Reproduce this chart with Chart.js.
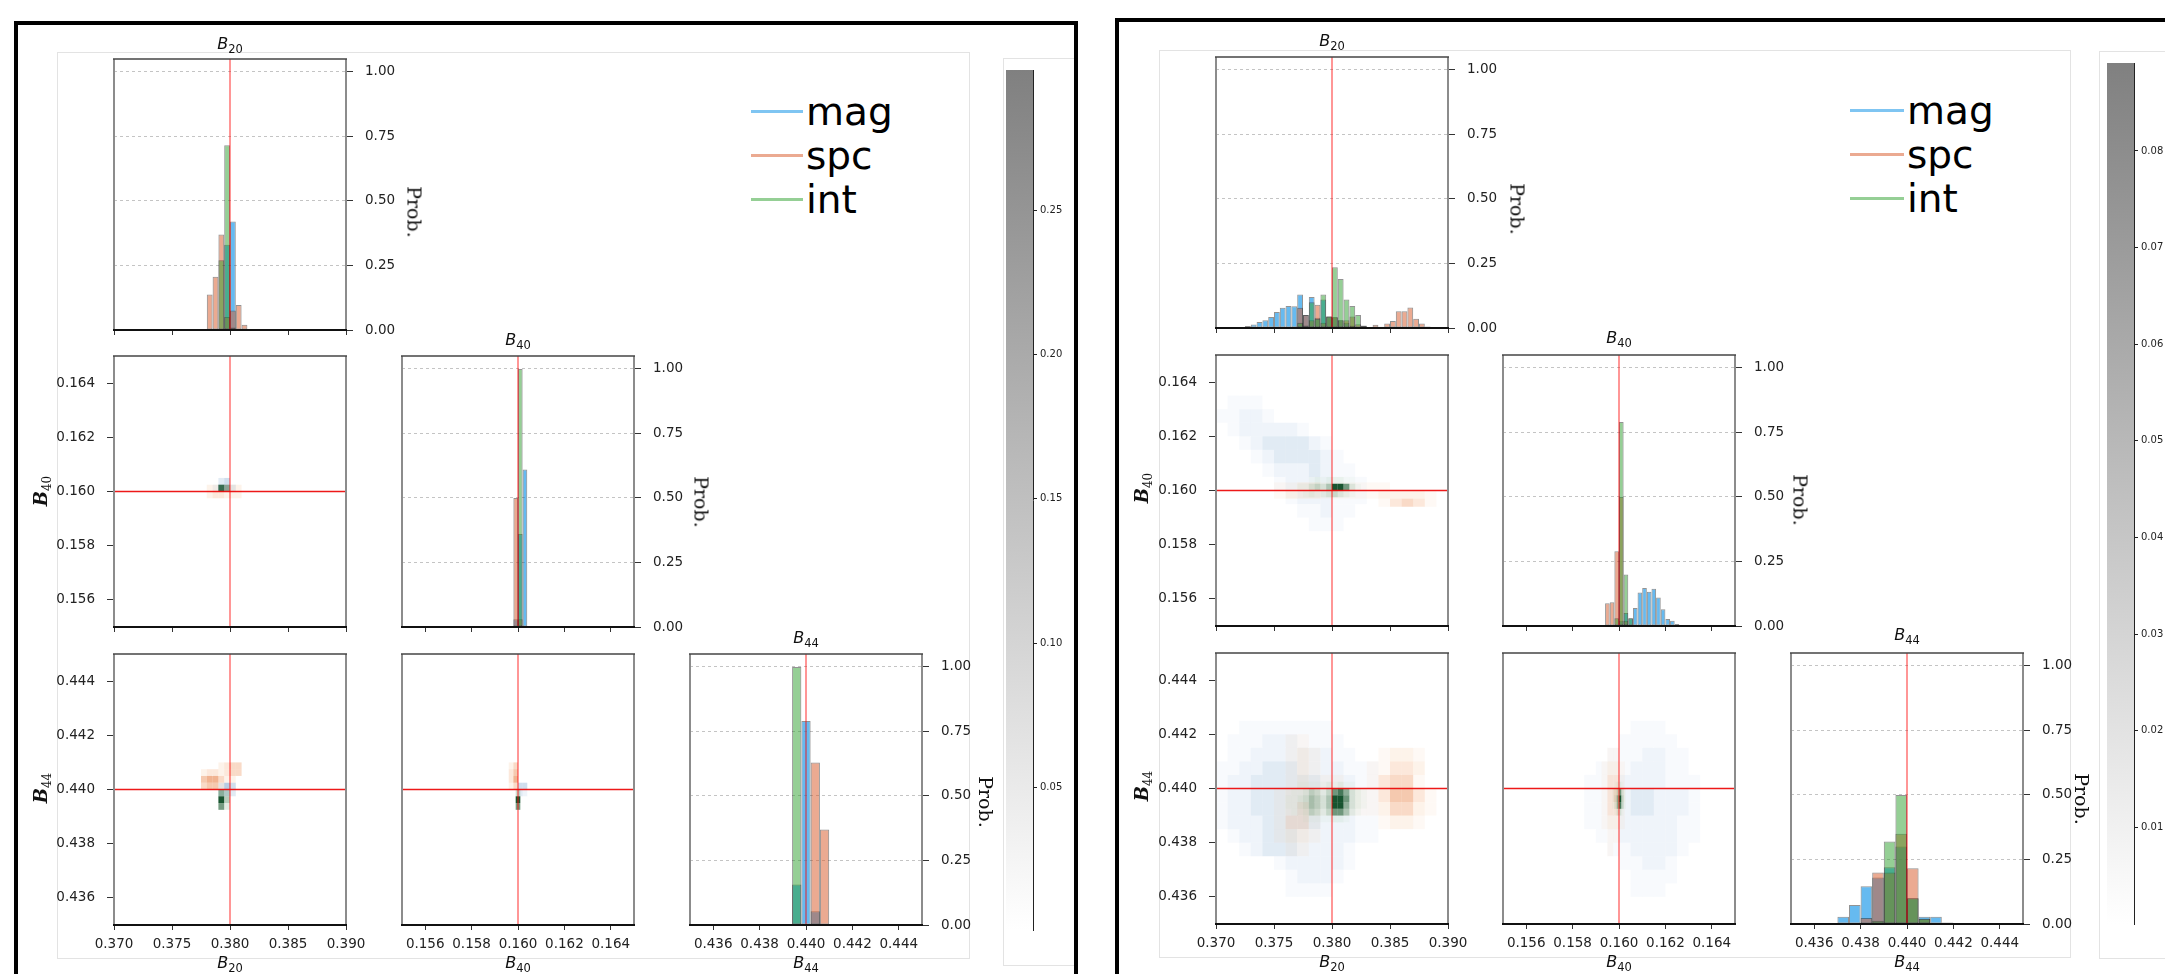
<!DOCTYPE html>
<html>
<head>
<meta charset="utf-8">
<title>Corner plots: mag / spc / int</title>
<script src="https://cdn.jsdelivr.net/npm/chart.js@4.4.1/dist/chart.umd.min.js"></script>
<style>
  html, body { margin: 0; padding: 0; background: #fff; }
  #stage { position: relative; width: 2165px; height: 974px; overflow: hidden; background: #fff; font-family: 'DejaVu Sans', sans-serif; }
  #stage canvas { position: absolute; }
  .frame { position: absolute; border: 4px solid #000; box-sizing: border-box; z-index: 5; }
  .box { position: absolute; border: 1px solid #e3e3e3; box-sizing: border-box; }
  .lab { position: absolute; white-space: nowrap; line-height: 1; color: #111; }
  .leg { position: absolute; white-space: nowrap; line-height: 1; font-size: 39px; color: #000; }
  .sw { position: absolute; height: 3px; }
</style>
</head>
<body>
<div id="stage"></div>
<script>
// ==========================================
// DATA: axes
// ==========================================
const B20_LIM = [0.370, 0.390];
const B40_LIM = [0.155, 0.165];
const B44_LIM = [0.435, 0.445];
const PROB_LIM = [0, 1.05];
const B20_TICKS = [0.370, 0.375, 0.380, 0.385, 0.390];
const B40_TICKS = [0.156, 0.158, 0.160, 0.162, 0.164];
const B44_TICKS = [0.436, 0.438, 0.440, 0.442, 0.444];
const PROB_TICKS = [0.00, 0.25, 0.50, 0.75, 1.00];
const TRUTH = [0.380, 0.160, 0.440];          // reference B20, B40, B44
const SERIES = ['mag', 'spc', 'int'];

const CB_L_LIM = [0.0007, 0.2985];
const CB_L_TICKS = [0.05, 0.10, 0.15, 0.20, 0.25];
const CB_R_LIM = [0.0, 0.0891];
const CB_R_TICKS = [0.01, 0.02, 0.03, 0.04, 0.05, 0.06, 0.07, 0.08];

// ==========================================
// DATA: left figure, 1-D marginals (bin starts, bin width, heights)
// ==========================================
const L_B20_BINS = [0.3780, 0.3785, 0.3790, 0.3795, 0.3800, 0.3805, 0.3810];
const L_B20_W = 0.0005;
const L_B20_MAG = [0, 0, 0, 0.33, 0.42, 0, 0];
const L_B20_SPC = [0.138, 0.206, 0.37, 0.05, 0.076, 0.097, 0.02];
const L_B20_INT = [0, 0, 0.27, 0.716, 0.01, 0, 0];

const L_B40_BINS = [0.1598, 0.1600, 0.1602];
const L_B40_W = 0.0002;
const L_B40_MAG = [0.03, 0.36, 0.61];
const L_B40_SPC = [0.50, 0.03, 0];
const L_B40_INT = [0, 1.0, 0];

const L_B44_BINS = [0.4394, 0.4398, 0.4402, 0.4406];
const L_B44_W = 0.0004;
const L_B44_MAG = [0.157, 0.79, 0.053, 0];
const L_B44_SPC = [0, 0, 0.63, 0.37];
const L_B44_INT = [1.0, 0, 0, 0];

// ==========================================
// DATA: right figure, 1-D marginals
// ==========================================
const R_B20_BINS = [0.3720, 0.3725, 0.3730, 0.3735, 0.3740, 0.3745, 0.3750, 0.3755, 0.3760, 0.3765,
                    0.3770, 0.3775, 0.3780, 0.3785, 0.3790, 0.3795, 0.3800, 0.3805, 0.3810, 0.3815,
                    0.3820, 0.3825, 0.3830, 0.3835, 0.3840, 0.3845, 0.3850, 0.3855, 0.3860, 0.3865,
                    0.3870, 0.3875, 0.3880, 0.3885];
const R_B20_W = 0.0005;
const R_B20_MAG = [0.004, 0.008, 0.014, 0.023, 0.03, 0.043, 0.062, 0.078, 0.085, 0.084,
                   0.13, 0.05, 0.12, 0.04, 0.11, 0.045, 0.04, 0.03, 0.02, 0.01,
                   0.005, 0, 0, 0, 0, 0, 0, 0, 0, 0,
                   0, 0, 0, 0];
const R_B20_SPC = [0, 0, 0, 0, 0, 0, 0, 0, 0, 0.005,
                   0.078, 0.05, 0.03, 0.09, 0.02, 0.045, 0.043, 0.03, 0.03, 0.045,
                   0.015, 0.008, 0.004, 0.013, 0.005, 0.017, 0.027, 0.065, 0.065, 0.079,
                   0.036, 0.017, 0.006, 0.002];
const R_B20_INT = [0, 0, 0, 0, 0, 0, 0, 0, 0, 0.003,
                   0.02, 0.01, 0.10, 0.036, 0.13, 0.045, 0.235, 0.19, 0.11, 0.085,
                   0.05, 0.01, 0.003, 0, 0, 0, 0, 0, 0, 0,
                   0, 0, 0, 0];

const R_B40_BINS = [0.1594, 0.1596, 0.1598, 0.1600, 0.1602, 0.1604, 0.1606, 0.1608, 0.1610,
                    0.1612, 0.1614, 0.1616, 0.1618, 0.1620, 0.1622, 0.1624, 0.1626];
const R_B40_W = 0.0002;
const R_B40_MAG = [0, 0, 0, 0.02, 0.05, 0.03, 0.07, 0.13, 0.147, 0.133, 0.144, 0.11, 0.065, 0.027, 0.02, 0.008, 0.003];
const R_B40_SPC = [0.088, 0.092, 0.29, 0.50, 0.02, 0, 0, 0, 0, 0, 0, 0, 0, 0, 0, 0, 0];
const R_B40_INT = [0, 0, 0.03, 0.79, 0.20, 0.03, 0, 0, 0, 0, 0, 0, 0, 0, 0, 0, 0];

const R_B44_BINS = [0.4365, 0.4370, 0.4375, 0.4380, 0.4385, 0.4390, 0.4395, 0.4400, 0.4405, 0.4410, 0.4415];
const R_B44_W = 0.0005;
const R_B44_MAG = [0.003, 0.028, 0.074, 0.146, 0.18, 0.22, 0.30, 0.10, 0.028, 0.028, 0.006];
const R_B44_SPC = [0, 0, 0.003, 0.023, 0.20, 0.20, 0.35, 0.216, 0.02, 0, 0];
const R_B44_INT = [0, 0, 0, 0.005, 0.013, 0.32, 0.50, 0.10, 0.02, 0, 0];

// ==========================================
// DATA: 2-D densities. grid = [x left, y top, dx, dy]; rows top->bottom, digit = shade level
// ==========================================
const L_2040_MAG_GRID = [0.3785, 0.1605, 0.0005, 0.00025];
const L_2040_MAG = ['.34.', '2663'];
const L_2040_SPC_GRID = [0.3775, 0.16025, 0.0005, 0.00025];
const L_2040_SPC = ['.222322.', '.233222.'];
const L_2040_INT_GRID = [0.3785, 0.16025, 0.0005, 0.00025];
const L_2040_INT = ['.85.'];

const L_2044_MAG_GRID = [0.3785, 0.44025, 0.0005, 0.00025];
const L_2044_MAG = ['.354', '.343'];
const L_2044_SPC_GRID = [0.3775, 0.441, 0.0005, 0.00025];
const L_2044_SPC = ['...2344.', '2332344.', '566422..', '4552....'];
const L_2044_INT_GRID = [0.3785, 0.440, 0.0005, 0.00025];
const L_2044_INT = ['.64.', '.95.', '.73.'];

const L_4044_MAG_GRID = [0.1600, 0.44025, 0.0002, 0.00025];
const L_4044_MAG = ['44', '32'];
const L_4044_SPC_GRID = [0.1596, 0.441, 0.0002, 0.00025];
const L_4044_SPC = ['24', '35', '36', '24'];
const L_4044_INT_GRID = [0.1599, 0.440, 0.0001, 0.00025];
const L_4044_INT = ['44', '99', '77'];

const R_2040_MAG_GRID = [0.370, 0.1635, 0.001, 0.0005];
const R_2040_MAG = [
  '.111..........',
  '11221.........',
  '.1222221......',
  '..12333321....',
  '...12333321...',
  '....12223211..',
  '.....12222111.',
  '......1222111.',
  '.......11211..',
  '........111...'];
const R_2040_SPC_GRID = [0.375, 0.1603, 0.001, 0.0003];
const R_2040_SPC = ['1122111111....', '12221111122221', '.........13431'];
const R_2040_INT_GRID = [0.377, 0.1605, 0.0005, 0.00025];
const R_2040_INT = ['..12122211.', '11343599731', '.121234321.'];

const R_2044_MAG_GRID = [0.370, 0.4425, 0.001, 0.0005];
const R_2044_MAG = [
  '..11111111.....',
  '.1112221111....',
  '.11222222211...',
  '11223332222111.',
  '12233333322211.',
  '12233333322211.',
  '12233333322211.',
  '12223333322211.',
  '.1223332222211.',
  '..1233322221...',
  '.....1222221...',
  '......12221....',
  '......1111.....'];
const R_2044_SPC_GRID = [0.375, 0.4420, 0.001, 0.0005];
const R_2044_SPC = [
  '.11...........',
  '.121.....1221.',
  '.121....11332.',
  '.12111..13441.',
  '12221111135531',
  '12321111124421',
  '1331.....1221.',
  '1221..........',
  '.11...........'];
const R_2044_INT_GRID = [0.3755, 0.44025, 0.0005, 0.00025];
const R_2044_INT = [
  '...1111121211..',
  '..1124324786321',
  '.11235435997321',
  '.11235435996321',
  '..112432477521.',
  '....11111221...'];

const R_4044_MAG_GRID = [0.1585, 0.4425, 0.0005, 0.0005];
const R_4044_MAG = [
  '....111...',
  '...11111..',
  '..1112211.',
  '.11122211.',
  '1112222111',
  '1112332221',
  '1112332221',
  '1112222211',
  '.112222211',
  '..1122221.',
  '...11221..',
  '....1111..',
  '....111...'];
const R_4044_SPC_GRID = [0.15925, 0.4415, 0.00025, 0.0005];
const R_4044_SPC = ['.11.', '1221', '1331', '1342', '1331', '1221', '.11.', '.1..'];
const R_4044_INT_GRID = [0.1597, 0.44025, 0.0001, 0.00025];
const R_4044_INT = ['.1221.', '124731', '136941', '136841', '.1331.'];

// ==========================================
// STYLE
// ==========================================
const HIST_FILL = ['rgba(0,140,230,0.6)', 'rgba(215,85,35,0.5)', 'rgba(44,160,44,0.5)'];
const HIST_EDGE = 'rgba(40,40,40,0.5)';
const LEG_COLOR = ['rgba(0,140,230,0.5)', 'rgba(215,85,35,0.5)', 'rgba(44,160,44,0.5)'];
const CMAP_LIGHT = [[198, 219, 239], [253, 208, 162], [199, 233, 192]];
const CMAP_DARK = [[8, 81, 156], [217, 72, 1], [0, 68, 27]];
const V_LINE = ['rgba(255,0,0,0.55)', 1.5];
const H_LINE = ['rgba(235,0,0,0.9)', 1.6];
const CB_BOTTOM = '#ffffff';
const CB_TOP = '#808080';
const PW = 232, PH = 271;

Chart.defaults.font.family = "'DejaVu Sans', sans-serif";
Chart.defaults.font.size = 13.5;
Chart.defaults.color = '#222';

const stage = document.getElementById('stage');

// spines drawn on top of the data
Chart.register({
  id: 'frame',
  afterDraw(chart, _args, opts) {
    if (!opts.show) return;
    const { ctx, chartArea: a } = chart;
    const seg = (x1, y1, x2, y2, col, lw) => {
      ctx.beginPath(); ctx.strokeStyle = col; ctx.lineWidth = lw;
      ctx.moveTo(x1, y1); ctx.lineTo(x2, y2); ctx.stroke();
    };
    ctx.save();
    seg(a.left, a.top, a.left, a.bottom, '#8c8c8c', 2);
    seg(a.right, a.top, a.right, a.bottom, '#8c8c8c', 2);
    seg(a.left - 1, a.top, a.right + 1, a.top, '#444', 1.5);
    seg(a.left - 1, a.bottom, a.right + 1, a.bottom, '#111', 2);
    ctx.restore();
  }
});

// pad = [left, right, top, bottom] around the plotting frame; sides taken by an axis get no layout padding
function makeCanvas(x, y, w, h, pad) {
  const c = document.createElement('canvas');
  c.width = w + pad[0] + pad[1];
  c.height = h + pad[2] + pad[3];
  c.style.left = (x - pad[0]) + 'px';
  c.style.top = (y - pad[2]) + 'px';
  stage.appendChild(c);
  return c;
}

function baseOptions(padding) {
  return {
    responsive: false, animation: false, events: [],
    layout: { padding },
    plugins: { legend: { display: false }, tooltip: { enabled: false }, frame: { show: true } }
  };
}

const fixTicks = list => s => { s.ticks = list.map(v => ({ value: v })); };

function xAxis(lim, ticks, showLabels, size) {
  return {
    type: 'linear', position: 'bottom', min: lim[0], max: lim[1], offset: false,
    afterBuildTicks: fixTicks(ticks), afterFit: s => { s.height = size; },
    grid: { offset: false, drawOnChartArea: false, tickLength: 5, tickColor: '#333', tickWidth: 1 },
    border: { display: false },
    ticks: { display: showLabels, autoSkip: false, maxRotation: 0, minRotation: 0, padding: 6, callback: v => v.toFixed(3) }
  };
}

function yAxis(lim, ticks, show, size) {
  return {
    type: 'linear', position: 'left', display: show, min: lim[0], max: lim[1],
    afterBuildTicks: fixTicks(ticks), afterFit: s => { s.width = show ? size : 0; },
    grid: { drawOnChartArea: false, tickLength: 7, tickColor: '#333', tickWidth: 1 },
    border: { display: false },
    ticks: { padding: 12, callback: v => v.toFixed(3) }
  };
}

function probAxis(size) {
  return {
    type: 'linear', position: 'right', min: PROB_LIM[0], max: PROB_LIM[1],
    afterBuildTicks: fixTicks(PROB_TICKS), afterFit: s => { s.width = size; },
    grid: {
      color: c => (c.tick && c.tick.value > 0 ? '#c4c4c4' : 'rgba(0,0,0,0)'),
      lineWidth: 1, tickLength: 7, tickColor: '#333', tickWidth: 1, tickBorderDash: []
    },
    border: { display: false, dash: [3, 3] },
    ticks: { padding: 12, callback: v => v.toFixed(2) }
  };
}

function refLine(xs, ys, style) {
  return {
    type: 'line', order: 0, data: [{ x: xs[0], y: ys[0] }, { x: xs[1], y: ys[1] }],
    borderColor: style[0], borderWidth: style[1], pointRadius: 0, fill: false
  };
}

function shade(k, d) {
  const t = d / 9, lo = CMAP_LIGHT[k], hi = CMAP_DARK[k];
  const c = lo.map((v, i) => Math.round(v + (hi[i] - v) * t));
  return `rgba(${c[0]},${c[1]},${c[2]},${(0.04 + 0.86 * Math.pow(t, 1.3)).toFixed(3)})`;
}

function cells(grid, rows) {
  const [x0, y0, dx, dy] = grid;
  const out = [];
  rows.forEach((row, r) => {
    for (let c = 0; c < row.length; c++) {
      const d = row[c] === '.' ? 0 : Number(row[c]);
      if (d > 0) {
        out.push({
          x: +(x0 + (c + 0.5) * dx).toFixed(7),
          y: [+(y0 - (r + 1) * dy).toFixed(7), +(y0 - r * dy).toFixed(7)],
          d
        });
      }
    }
  });
  return out;
}

// hist = [bins, width, mag, spc, int]
function histChart(x, y, lim, ticks, hist, truth, showX) {
  const [bins, w, ...series] = hist;
  const px = w / (lim[1] - lim[0]) * PW;
  const datasets = series.map((vals, k) => ({
    type: 'bar', order: 3 - k, grouped: false, barThickness: px, inflateAmount: 0,
    data: bins.map((b, i) => ({ x: +(b + w / 2).toFixed(6), y: vals[i] })).filter(p => p.y > 0),
    backgroundColor: HIST_FILL[k], borderColor: HIST_EDGE, borderWidth: 1, borderSkipped: false
  }));
  datasets.push(refLine([truth, truth], PROB_LIM, V_LINE));
  const pad = [30, 70, 26, 30];
  const options = baseOptions({ left: pad[0], right: 0, top: pad[2], bottom: 0 });
  options.scales = { x: xAxis(lim, ticks, showX, pad[3]), y: probAxis(pad[1]) };
  return new Chart(makeCanvas(x, y, PW, PH, pad), { type: 'bar', data: { datasets }, options });
}

// layers = [[grid, rows, seriesIndex], ...]
function densChart(x, y, xl, xt, yl, yt, layers, tx, ty, showX, showY) {
  const datasets = layers.map(([grid, rows, k]) => ({
    type: 'bar', order: 3 - k, grouped: false, inflateAmount: 0,
    barThickness: grid[2] / (xl[1] - xl[0]) * PW,
    data: cells(grid, rows),
    backgroundColor: c => (c.raw ? shade(k, c.raw.d) : 'rgba(0,0,0,0)'),
    borderWidth: 0
  }));
  datasets.push(refLine([tx, tx], yl, V_LINE), refLine(xl, [ty, ty], H_LINE));
  const pad = [70, 30, 26, 30];
  const options = baseOptions({ left: showY ? 0 : pad[0], right: pad[1], top: pad[2], bottom: 0 });
  options.scales = { x: xAxis(xl, xt, showX, pad[3]), y: yAxis(yl, yt, showY, pad[0]) };
  return new Chart(makeCanvas(x, y, PW, PH, pad), { type: 'bar', data: { datasets }, options });
}

function colorbar(geo, lim, ticks) {
  const pad = [4, 50, 12, 12];
  const options = baseOptions({ left: pad[0], right: 0, top: pad[2], bottom: pad[3] });
  options.plugins.frame = { show: false };
  options.scales = {
    x: { display: false },
    y: {
      type: 'linear', position: 'right', min: lim[0], max: lim[1],
      afterBuildTicks: fixTicks(ticks), afterFit: s => { s.width = pad[1]; },
      grid: { drawOnChartArea: false, tickLength: 4, tickColor: '#222', tickWidth: 1 },
      border: { display: true, color: '#222', width: 1 },
      ticks: { padding: 3, font: { size: 10 }, callback: v => v.toFixed(2) }
    }
  };
  const fill = ctx => {
    const a = ctx.chart.chartArea;
    if (!a) return CB_TOP;
    const g = ctx.chart.ctx.createLinearGradient(0, a.bottom, 0, a.top);
    g.addColorStop(0, CB_BOTTOM);
    g.addColorStop(1, CB_TOP);
    return g;
  };
  return new Chart(makeCanvas(geo[0], geo[1], geo[2], geo[3], pad), {
    type: 'bar',
    data: { labels: [''], datasets: [{ data: [lim], barPercentage: 1, categoryPercentage: 1, borderWidth: 0, inflateAmount: 0, backgroundColor: fill }] },
    options
  });
}

// ==========================================
// HTML text and boxes
// ==========================================
function div(cls, x, y, w, h) {
  const d = document.createElement('div');
  d.className = cls;
  d.style.left = x + 'px'; d.style.top = y + 'px';
  if (w != null) d.style.width = w + 'px';
  if (h != null) d.style.height = h + 'px';
  stage.appendChild(d);
  return d;
}

function label(html, x, y, size, family, rot) {
  const el = div('lab', x, y);
  el.innerHTML = html;
  el.style.fontSize = size + 'px';
  el.style.fontFamily = family;
  el.style.transform = `translate(-50%, -50%) rotate(${rot || 0}deg)`;
}

const symSans = s => `<span style="font-style:italic">B</span><span style="position:relative;top:4px;font-size:11.5px">${s}</span>`;
const symSerif = s => `<span style="font-style:italic;font-weight:bold">B</span><span style="position:relative;top:4px;font-size:12px">${s}</span>`;

function legend(x0, x1, ys, tx) {
  SERIES.forEach((s, k) => {
    const sw = div('sw', x0, ys[k] - 1.5, x1 - x0);
    sw.style.background = LEG_COLOR[k];
    const t = div('leg', tx, ys[k] + 13.5 - 0.846 * 39);
    t.textContent = s;
  });
}

// ==========================================
// BUILD
// ==========================================
function buildFigure(L, d) {
  div('box', ...L.fig);
  div('box', ...L.cbBox);
  div('frame', ...L.frame);

  const [c1, c2, c3] = L.cols, [r1, r2, r3] = L.rows;
  histChart(c1, r1, B20_LIM, B20_TICKS, d.h20, TRUTH[0], false);
  densChart(c1, r2, B20_LIM, B20_TICKS, B40_LIM, B40_TICKS, d.d2040, TRUTH[0], TRUTH[1], false, true);
  histChart(c2, r2, B40_LIM, B40_TICKS, d.h40, TRUTH[1], false);
  densChart(c1, r3, B20_LIM, B20_TICKS, B44_LIM, B44_TICKS, d.d2044, TRUTH[0], TRUTH[2], true, true);
  densChart(c2, r3, B40_LIM, B40_TICKS, B44_LIM, B44_TICKS, d.d4044, TRUTH[1], TRUTH[2], true, false);
  histChart(c3, r3, B44_LIM, B44_TICKS, d.h44, TRUTH[2], true);
  colorbar(L.cb, d.cbLim, d.cbTicks);

  const subs = ['20', '40', '44'];
  const sans = "'DejaVu Sans', sans-serif", serif = "'DejaVu Serif', serif";
  L.cols.forEach((cx, i) => {
    label(symSans(subs[i]), cx + PW / 2, L.top[i], 16, sans, 0);
    label(symSans(subs[i]), cx + PW / 2, L.bottomY, 16, sans, 0);
  });
  label(symSerif('40'), L.ylabX, L.ylabY[0], 18, serif, -90);
  label(symSerif('44'), L.ylabX, L.ylabY[1], 18, serif, -90);
  L.prob.forEach(p => label('Prob.', p[0], p[1], 19, serif, 90));
  legend(L.legend[0], L.legend[1], L.legend[2], L.legend[3]);
}

buildFigure({
  cols: [114, 402, 690], rows: [59, 356, 654],
  top: [44, 339.5, 637.5], bottomY: 962.5,
  ylabX: 41, ylabY: [491, 788],
  prob: [[414, 212], [701, 502], [985, 802]],
  legend: [751, 803, [111.7, 155.3, 199.3], 806],
  cb: [1006, 70, 27, 860],
  fig: [57, 52, 913, 907], cbBox: [1003, 58, 72, 908], frame: [14, 21, 1064, 1000]
}, {
  h20: [L_B20_BINS, L_B20_W, L_B20_MAG, L_B20_SPC, L_B20_INT],
  h40: [L_B40_BINS, L_B40_W, L_B40_MAG, L_B40_SPC, L_B40_INT],
  h44: [L_B44_BINS, L_B44_W, L_B44_MAG, L_B44_SPC, L_B44_INT],
  d2040: [[L_2040_MAG_GRID, L_2040_MAG, 0], [L_2040_SPC_GRID, L_2040_SPC, 1], [L_2040_INT_GRID, L_2040_INT, 2]],
  d2044: [[L_2044_MAG_GRID, L_2044_MAG, 0], [L_2044_SPC_GRID, L_2044_SPC, 1], [L_2044_INT_GRID, L_2044_INT, 2]],
  d4044: [[L_4044_MAG_GRID, L_4044_MAG, 0], [L_4044_SPC_GRID, L_4044_SPC, 1], [L_4044_INT_GRID, L_4044_INT, 2]],
  cbLim: CB_L_LIM, cbTicks: CB_L_TICKS
});

buildFigure({
  cols: [1216, 1503, 1791], rows: [57, 355, 653],
  top: [41, 337.5, 634.5], bottomY: 962,
  ylabX: 1142, ylabY: [488, 786],
  prob: [[1516.5, 209], [1800, 500], [2081, 799]],
  legend: [1849.5, 1904, [110, 154, 198.7], 1907],
  cb: [2107, 63, 27, 861],
  fig: [1159, 50, 912, 908], cbBox: [2099, 51, 100, 908], frame: [1115, 18, 1100, 1000]
}, {
  h20: [R_B20_BINS, R_B20_W, R_B20_MAG, R_B20_SPC, R_B20_INT],
  h40: [R_B40_BINS, R_B40_W, R_B40_MAG, R_B40_SPC, R_B40_INT],
  h44: [R_B44_BINS, R_B44_W, R_B44_MAG, R_B44_SPC, R_B44_INT],
  d2040: [[R_2040_MAG_GRID, R_2040_MAG, 0], [R_2040_SPC_GRID, R_2040_SPC, 1], [R_2040_INT_GRID, R_2040_INT, 2]],
  d2044: [[R_2044_MAG_GRID, R_2044_MAG, 0], [R_2044_SPC_GRID, R_2044_SPC, 1], [R_2044_INT_GRID, R_2044_INT, 2]],
  d4044: [[R_4044_MAG_GRID, R_4044_MAG, 0], [R_4044_SPC_GRID, R_4044_SPC, 1], [R_4044_INT_GRID, R_4044_INT, 2]],
  cbLim: CB_R_LIM, cbTicks: CB_R_TICKS
});
</script>
</body>
</html>
